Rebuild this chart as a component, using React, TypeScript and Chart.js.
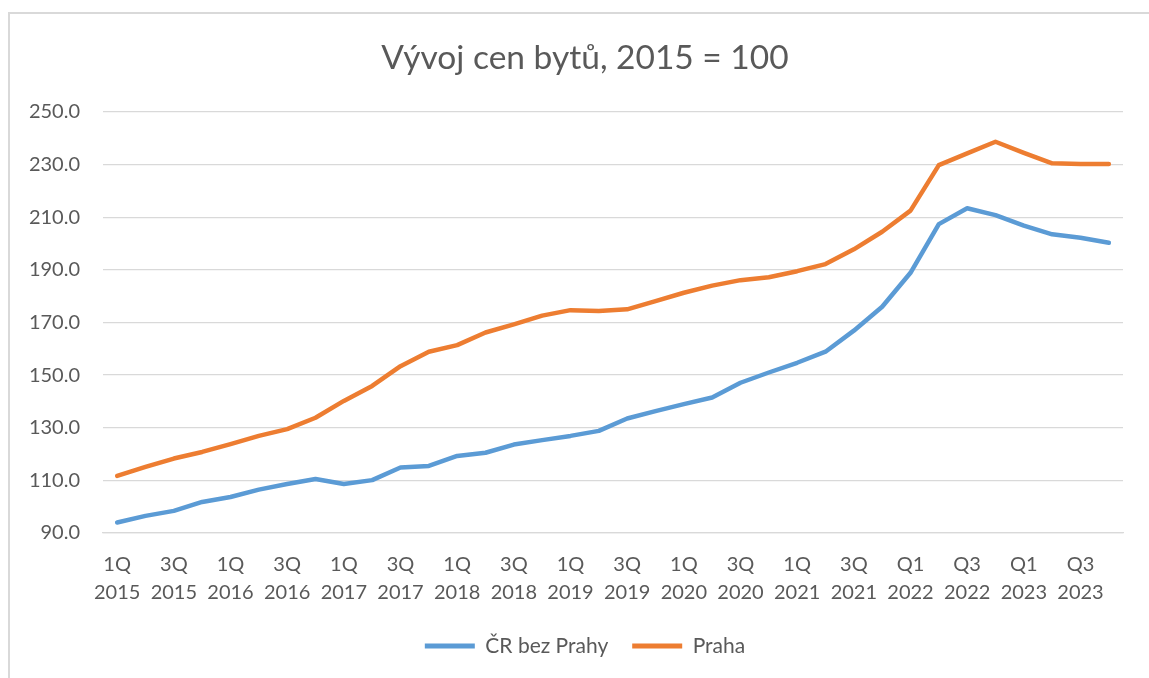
import React, { useEffect, useRef } from "react";
import { Chart, registerables } from "chart.js";

Chart.register(...registerables);

const categories: string[][] = [
  ["1Q", "2015"], ["2Q", "2015"], ["3Q", "2015"], ["4Q", "2015"],
  ["1Q", "2016"], ["2Q", "2016"], ["3Q", "2016"], ["4Q", "2016"],
  ["1Q", "2017"], ["2Q", "2017"], ["3Q", "2017"], ["4Q", "2017"],
  ["1Q", "2018"], ["2Q", "2018"], ["3Q", "2018"], ["4Q", "2018"],
  ["1Q", "2019"], ["2Q", "2019"], ["3Q", "2019"], ["4Q", "2019"],
  ["1Q", "2020"], ["2Q", "2020"], ["3Q", "2020"], ["4Q", "2020"],
  ["1Q", "2021"], ["2Q", "2021"], ["3Q", "2021"], ["4Q", "2021"],
  ["Q1", "2022"], ["Q2", "2022"], ["Q3", "2022"], ["Q4", "2022"],
  ["Q1", "2023"], ["Q2", "2023"], ["Q3", "2023"], ["Q4", "2023"],
];

const crBezPrahy: number[] = [
  94.0, 96.5, 98.4, 101.8, 103.7, 106.5, 108.6, 110.5,
  108.6, 110.1, 114.9, 115.5, 119.3, 120.5, 123.6, 125.3,
  126.9, 128.8, 133.5, 136.3, 139.0, 141.5, 147.1, 151.0,
  154.7, 158.9, 166.9, 176.0, 188.9, 207.4, 213.4, 210.8,
  206.8, 203.5, 202.2, 200.3,
];

const praha: number[] = [
  111.7, 115.1, 118.3, 120.8, 123.8, 126.9, 129.5, 133.8,
  140.2, 145.9, 153.4, 158.9, 161.4, 166.2, 169.3, 172.6,
  174.7, 174.4, 175.0, 178.1, 181.3, 184.0, 186.1, 187.2,
  189.5, 192.2, 197.8, 204.5, 212.5, 229.8, 234.3, 238.7,
  234.5, 230.5, 230.2, 230.2,
];

const seriesNames = ["ČR bez Prahy", "Praha"];
const yTicks = { min: 90, max: 250, step: 20 };
const titleText = "Vývoj cen bytů, 2015 = 100";

const FONT = "Lato";
const TEXT = "#595959";
const CANVAS_W = 1170;
const CANVAS_H = 678;

export default function App() {
  const ref = useRef<HTMLCanvasElement | null>(null);

  useEffect(() => {
    if (!ref.current) return;
    const chart = new Chart(ref.current, {
      type: "line",
      data: {
        labels: categories,
        datasets: [
          {
            label: seriesNames[0],
            data: crBezPrahy,
            borderColor: "#5B9BD5",
            backgroundColor: "#5B9BD5",
            borderWidth: 4.5,
            pointRadius: 0,
            tension: 0,
            borderCapStyle: "round",
            borderJoinStyle: "round",
          },
          {
            label: seriesNames[1],
            data: praha,
            borderColor: "#ED7D31",
            backgroundColor: "#ED7D31",
            borderWidth: 4.5,
            pointRadius: 0,
            tension: 0,
            borderCapStyle: "round",
            borderJoinStyle: "round",
          },
        ],
      },
      options: {
        responsive: false,
        animation: false,
        layout: { padding: { left: 0, right: 0, top: 14, bottom: 11.5 } },
        plugins: {
          title: {
            display: true,
            text: titleText,
            color: TEXT,
            font: { family: FONT, size: 33.5, weight: "normal", lineHeight: 1.2 },
            padding: { top: 24, bottom: 33.8 },
          },
          legend: {
            display: true,
            position: "bottom",
            labels: {
              color: TEXT,
              font: { family: FONT, size: 21 },
              boxWidth: 50,
              boxHeight: 5,
              padding: 24,
              generateLabels: (c: any) => {
                const items = Chart.defaults.plugins.legend.labels.generateLabels(c);
                return items.map((it: any) => ({ ...it, lineWidth: 0 }));
              },
            },
          },
          tooltip: { enabled: false },
        },
        scales: {
          x: {
            type: "category",
            offset: true,
            grid: { display: false, drawTicks: false },
            border: { display: true, color: "#d9d9d9", width: 1.3 },
            ticks: {
              autoSkip: false,
              maxRotation: 0,
              minRotation: 0,
              padding: 18,
              color: TEXT,
              font: { family: FONT, size: 20, lineHeight: "28px" },
              callback: function (this: any, val: any, idx: number) {
                return idx % 2 === 0 ? categories[idx] : "";
              },
            },
            afterFit: (scale: any) => {
              scale.height = 78.5;
            },
          },
          y: {
            min: yTicks.min,
            max: yTicks.max,
            grid: { color: "#d9d9d9", lineWidth: 1.3, drawTicks: false },
            border: { display: false },
            ticks: {
              stepSize: yTicks.step,
              padding: 23,
              color: TEXT,
              font: { family: FONT, size: 20 },
              callback: (v: any) => Number(v).toFixed(1),
            },
            afterFit: (scale: any) => {
              scale.width = 103;
            },
          },
          yRightSpacer: {
            type: "linear",
            position: "right",
            display: true,
            grid: { display: false, drawTicks: false },
            border: { display: false },
            ticks: { display: false },
            afterFit: (scale: any) => {
              scale.width = CANVAS_W - 1123;
            },
          },
        },
      },
    });
    return () => chart.destroy();
  }, []);

  return (
    <div
      style={{
        position: "absolute",
        left: 0,
        top: 0,
        width: 1149,
        height: 678,
        overflow: "hidden",
      }}
    >
      <div
        style={{
          position: "absolute",
          left: 8,
          top: 12,
          width: 1141,
          height: 666,
          borderLeft: "2px solid #d9d9d9",
          borderTop: "2px solid #d9d9d9",
          boxSizing: "border-box",
        }}
      />
      <canvas
        ref={ref}
        width={CANVAS_W}
        height={CANVAS_H}
        style={{ position: "absolute", left: 0, top: 0, width: CANVAS_W, height: CANVAS_H, display: "block" }}
      />
    </div>
  );
}
